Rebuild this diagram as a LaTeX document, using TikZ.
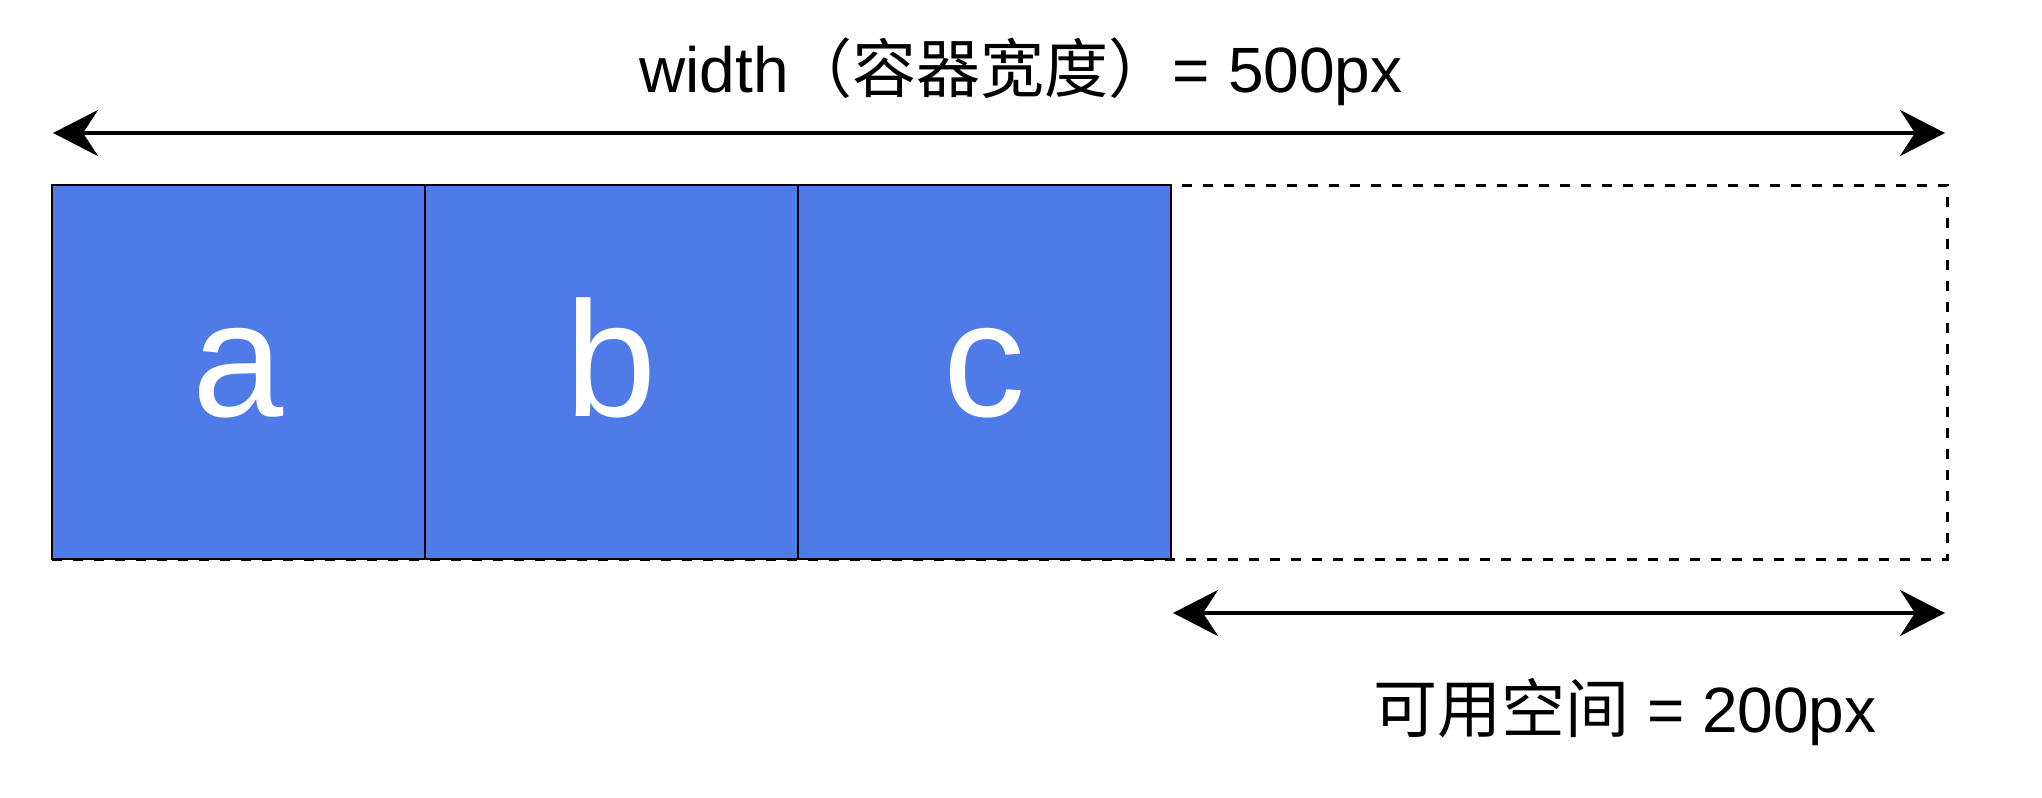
\documentclass[tikz,border=0pt]{standalone}
\usepackage{fontspec}
\setmainfont{Liberation Sans}
\newfontfamily\cjk{Noto Sans CJK SC}
\usepackage{tikz}
\usetikzlibrary{arrows.meta, positioning}
\definecolor{itemblue}{HTML}{4F7BE8}
\tikzset{
  item/.style={
    rectangle, draw=black, line width=1pt,
    minimum width=186.5pt, minimum height=187pt,
    inner sep=0pt, outer sep=0pt, text height=44pt, text depth=0pt,
    fill=itemblue, text=white, font=\fontsize{82}{82}\selectfont,
  },
  container/.style={
    rectangle, draw=black, line width=1.5pt, dash pattern=on 5pt off 5.5pt,
    minimum width=947.5pt, minimum height=187pt,
    inner sep=0pt, outer sep=0pt,
  },
  dimarrow/.style={{Stealth[length=22.5pt, width=23pt, inset=7.5pt]}-{Stealth[length=22.5pt, width=23pt, inset=7.5pt]}, line width=2pt},
  dimlabel/.style={font=\fontsize{32}{38}\selectfont, inner sep=0pt},
}
\begin{document}
\begin{tikzpicture}[x=0.5pt, y=-0.5pt, node distance=0pt]
  \useasboundingbox (0,0) rectangle (2042,798);

  \node[container, anchor=north west] (box) at (52,185) {};
  \node[item, anchor=north west] (a) at (52,185) {a};
  \node[item, right=of a] (b) {b};
  \node[item, right=of b] (c) {c};

  \node[dimlabel] (wlabel) at (1021,72) {width{\cjk（容器宽度）}= 500px};
  \node[dimlabel] (flabel) at (1625,712) {{\cjk 可用空间} = 200px};

  \coordinate (wl) at (53,133);
  \coordinate (wr) at (1945,133);
  \coordinate (fl) at (1173,613);
  \coordinate (fr) at (1945,613);

  \draw[dimarrow] (wl) -- (wr);
  \draw[dimarrow] (fl) -- (fr);

\end{tikzpicture}
\end{document}
